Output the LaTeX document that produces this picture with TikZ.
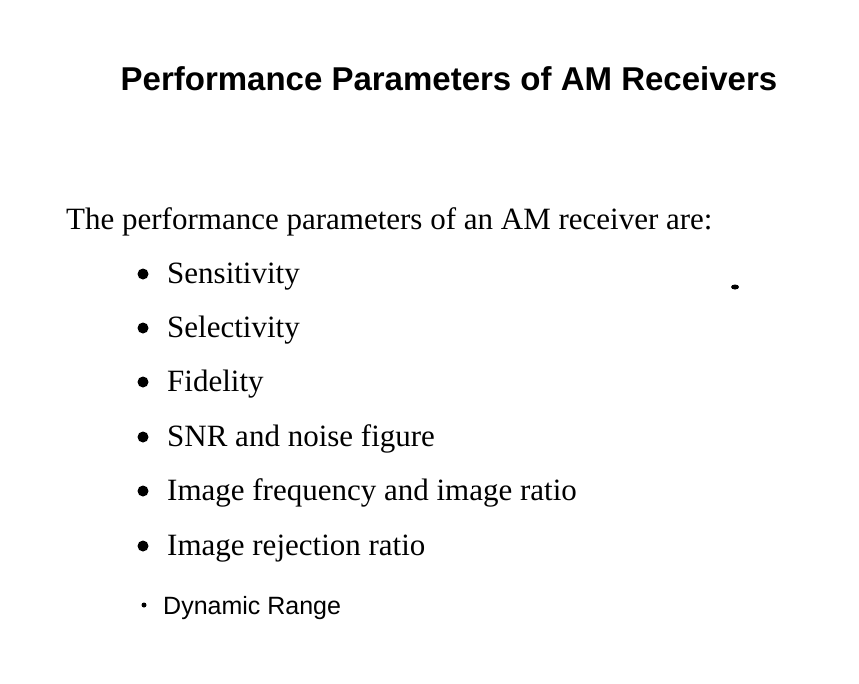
\documentclass[tikz,border=0pt]{standalone}
\usepackage{fontspec}
\setmainfont{Liberation Serif}
\newfontfamily\ttl{Liberation Sans}
\begin{document}
\begin{tikzpicture}[x=1pt,y=-1pt,
  body/.style={anchor=base west,inner sep=0pt,font=\fontsize{31}{34}\selectfont},
  dotb/.style={fill=black,circle,inner sep=0pt,minimum size=11pt}]
\useasboundingbox (0,0) rectangle (859,683);
\node[anchor=base,inner sep=0pt,font=\ttl\bfseries\fontsize{33}{36}\selectfont] (title) at (449,90) {Performance Parameters of AM Receivers};
\node[body] (intro) at (66,229) {The performance parameters of an AM receiver are:};
\foreach \y/\t [count=\i] in {283/Sensitivity,337/Selectivity,391/Fidelity,446/SNR and noise figure,500/Image frequency and image ratio,555/Image rejection ratio}{
  \node[dotb] (b\i) at (143,{\y-9}) {};
  \node[body] (t\i) at (167,\y) {\t};
}
\node[fill=black,circle,inner sep=0pt,minimum size=5pt] (b7) at (144,605) {};
\node[anchor=base west,inner sep=0pt,font=\ttl\fontsize{25}{28}\selectfont] (t7) at (163,614) {Dynamic Range};
\fill (735,287) ellipse (4pt and 2.5pt);
\end{tikzpicture}
\end{document}
